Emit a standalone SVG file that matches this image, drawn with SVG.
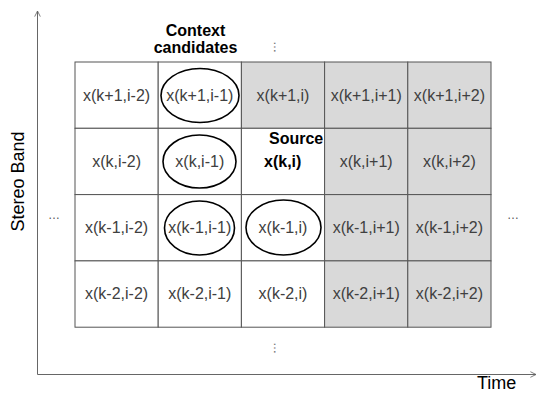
<svg xmlns="http://www.w3.org/2000/svg" width="538" height="398" viewBox="0 0 538 398">
<defs>
<style>
.cell{fill:#ffffff;stroke:#555555;stroke-width:1}
.sh{fill:#d9d9d9}
.lbl{font-family:"Liberation Sans",Arial,sans-serif;font-size:16px;fill:#404040;text-anchor:middle}
.bold{font-family:"Liberation Sans",Arial,sans-serif;font-size:16px;font-weight:bold;fill:#000000}
.ax{font-family:"Liberation Sans",Arial,sans-serif;font-size:18px;fill:#000000}
.dots{font-family:"Liberation Sans",Arial,sans-serif;font-size:12px;fill:#555555;text-anchor:middle}
.ell{fill:none;stroke:#000000;stroke-width:1.6}
.axis{stroke:#666666;stroke-width:1;fill:none}
</style>
<marker id="arr" viewBox="0 0 10 10" refX="9" refY="5" markerWidth="7" markerHeight="7" orient="auto" markerUnits="userSpaceOnUse">
<path d="M1,1 L9,5 L1,9" fill="none" stroke="#666666" stroke-width="1.2"/>
</marker>
</defs>
<rect width="538" height="398" fill="#ffffff"/>

<g id="connectors">
<line class="axis" x1="37.5" y1="374.5" x2="37.5" y2="11" marker-end="url(#arr)"/>
<line class="axis" x1="37.5" y1="374.5" x2="536" y2="374.5" marker-end="url(#arr)"/>
</g>

<g id="axis-labels">
<text class="ax" transform="translate(23.5,181.5) rotate(-90)" text-anchor="middle">Stereo Band</text>
<text class="ax" x="477" y="389">Time</text>
</g>

<g id="row0">
<g id="c_k1_im2"><rect class="cell" x="75" y="62" width="83.2" height="66.3"/><text class="lbl" x="116.6" y="100.5">x(k+1,i-2)</text></g>
<g id="c_k1_im1"><rect class="cell" x="158.2" y="62" width="83.2" height="66.3"/><text class="lbl" x="199.8" y="100.5">x(k+1,i-1)</text></g>
<g id="c_k1_i"><rect class="cell sh" x="241.4" y="62" width="83.2" height="66.3"/><text class="lbl" x="283" y="100.5">x(k+1,i)</text></g>
<g id="c_k1_ip1"><rect class="cell sh" x="324.6" y="62" width="83.2" height="66.3"/><text class="lbl" x="366.2" y="100.5">x(k+1,i+1)</text></g>
<g id="c_k1_ip2"><rect class="cell sh" x="407.8" y="62" width="83.2" height="66.3"/><text class="lbl" x="449.4" y="100.5">x(k+1,i+2)</text></g>
</g>

<g id="row1">
<g id="c_k_im2"><rect class="cell" x="75" y="128.3" width="83.2" height="66.3"/><text class="lbl" x="116.6" y="166.8">x(k,i-2)</text></g>
<g id="c_k_im1"><rect class="cell" x="158.2" y="128.3" width="83.2" height="66.3"/><text class="lbl" x="199.8" y="166.8">x(k,i-1)</text></g>
<g id="c_k_i"><rect class="cell" x="241.4" y="128.3" width="83.2" height="66.3"/><text class="bold" x="269" y="143.5">Source</text><text class="bold" x="264" y="167">x(k,i)</text></g>
<g id="c_k_ip1"><rect class="cell sh" x="324.6" y="128.3" width="83.2" height="66.3"/><text class="lbl" x="366.2" y="166.8">x(k,i+1)</text></g>
<g id="c_k_ip2"><rect class="cell sh" x="407.8" y="128.3" width="83.2" height="66.3"/><text class="lbl" x="449.4" y="166.8">x(k,i+2)</text></g>
</g>

<g id="row2">
<g id="c_km1_im2"><rect class="cell" x="75" y="194.6" width="83.2" height="66.3"/><text class="lbl" x="116.6" y="233.1">x(k-1,i-2)</text></g>
<g id="c_km1_im1"><rect class="cell" x="158.2" y="194.6" width="83.2" height="66.3"/><text class="lbl" x="199.8" y="233.1">x(k-1,i-1)</text></g>
<g id="c_km1_i"><rect class="cell" x="241.4" y="194.6" width="83.2" height="66.3"/><text class="lbl" x="283" y="233.1">x(k-1,i)</text></g>
<g id="c_km1_ip1"><rect class="cell sh" x="324.6" y="194.6" width="83.2" height="66.3"/><text class="lbl" x="366.2" y="233.1">x(k-1,i+1)</text></g>
<g id="c_km1_ip2"><rect class="cell sh" x="407.8" y="194.6" width="83.2" height="66.3"/><text class="lbl" x="449.4" y="233.1">x(k-1,i+2)</text></g>
</g>

<g id="row3">
<g id="c_km2_im2"><rect class="cell" x="75" y="260.9" width="83.2" height="66.3"/><text class="lbl" x="116.6" y="299.4">x(k-2,i-2)</text></g>
<g id="c_km2_im1"><rect class="cell" x="158.2" y="260.9" width="83.2" height="66.3"/><text class="lbl" x="199.8" y="299.4">x(k-2,i-1)</text></g>
<g id="c_km2_i"><rect class="cell" x="241.4" y="260.9" width="83.2" height="66.3"/><text class="lbl" x="283" y="299.4">x(k-2,i)</text></g>
<g id="c_km2_ip1"><rect class="cell sh" x="324.6" y="260.9" width="83.2" height="66.3"/><text class="lbl" x="366.2" y="299.4">x(k-2,i+1)</text></g>
<g id="c_km2_ip2"><rect class="cell sh" x="407.8" y="260.9" width="83.2" height="66.3"/><text class="lbl" x="449.4" y="299.4">x(k-2,i+2)</text></g>
</g>

<g id="context-candidates">
<text class="bold" x="195.5" y="36" text-anchor="middle">Context</text>
<text class="bold" x="195.5" y="53" text-anchor="middle">candidates</text>
<ellipse class="ell" cx="200" cy="95.5" rx="39" ry="27"/>
<ellipse class="ell" cx="199.5" cy="161.5" rx="36.5" ry="26.5"/>
<ellipse class="ell" cx="199.5" cy="228" rx="35" ry="27"/>
<ellipse class="ell" cx="283.5" cy="227.5" rx="37.5" ry="27.5"/>
</g>

<g id="ellipsis">
<text class="dots" transform="translate(278,47) rotate(90)" y="4">…</text>
<text class="dots" transform="translate(278,348) rotate(90)" y="4">…</text>
<text class="dots" x="54" y="219">…</text>
<text class="dots" x="513" y="219">…</text>
</g>
</svg>
